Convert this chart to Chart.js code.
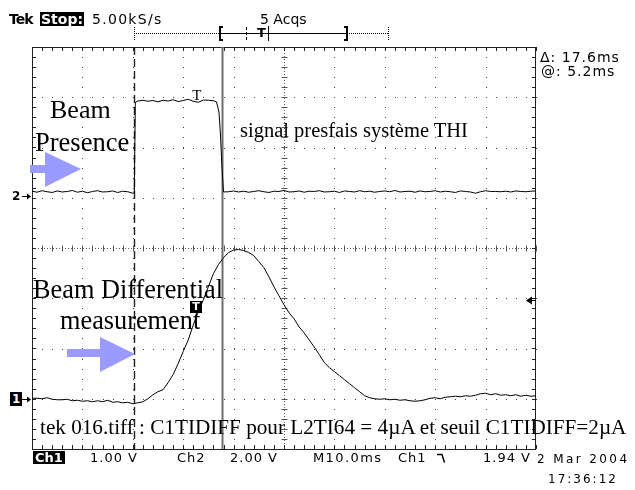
<!DOCTYPE html>
<html><head><meta charset="utf-8">
<script src="https://cdn.jsdelivr.net/npm/chart.js@4.4.0/dist/chart.umd.min.js"></script>
<style>
html,body{margin:0;padding:0;background:#fff;}
#wrap{position:relative;width:635px;height:490px;overflow:hidden;background:#fff;}
#c{position:absolute;left:0;top:0;}
.t{position:absolute;white-space:nowrap;line-height:1;}
.serif{font-family:"Liberation Serif","Times New Roman",serif;color:#000;}
.ui{font-family:"DejaVu Sans",sans-serif;color:#000;font-size:13px;letter-spacing:1px;}
.inv{background:#000;color:#fff;}
</style></head><body>
<div id="wrap">
<canvas id="c" width="635" height="490"></canvas>
<!-- header -->
<div class="t ui" style="left:9px;top:12px;font-size:14px;font-weight:bold;letter-spacing:-1px;">Tek</div>
<div class="t ui inv" style="left:40px;top:12px;font-size:14px;font-weight:bold;letter-spacing:0;padding:0 1px;">Stop:</div>
<div class="t ui" style="left:92px;top:12px;font-size:14px;letter-spacing:1.3px;">5.00kS/s</div>
<div class="t ui" style="left:260px;top:12px;font-size:14px;letter-spacing:0;">5 Acqs</div>
<div class="t ui" style="left:257px;top:26px;font-size:13px;font-weight:bold;letter-spacing:0;">T</div>
<div class="t ui" style="left:540px;top:50px;font-size:14px;letter-spacing:1px;">&Delta;: 17.6ms</div>
<div class="t ui" style="left:541px;top:64px;font-size:14px;letter-spacing:1px;">@: 5.2ms</div>
<!-- annotations -->
<div class="t serif" style="left:50px;top:97px;font-size:26px;">Beam</div>
<div class="t serif" style="left:35px;top:129px;font-size:26.5px;">Presence</div>
<div class="t serif" style="left:240px;top:120px;font-size:20.5px;">signal presfais système THI</div>
<div class="t serif" style="left:33px;top:277px;font-size:26.3px;">Beam Differential</div>
<div class="t serif" style="left:60px;top:308px;font-size:26.3px;">measurement</div>
<div class="t serif" style="left:40px;top:417px;font-size:21.2px;">tek 016.tiff : C1TIDIFF pour L2TI64 = 4µA et seuil C1TIDIFF=2µA</div>
<!-- status line -->
<div class="t ui inv" style="left:33px;top:451px;font-weight:bold;letter-spacing:0;padding:0 2px;">Ch1</div>
<div class="t ui" style="left:90px;top:451px;">1.00 V</div>
<div class="t ui" style="left:177px;top:451px;">Ch2</div>
<div class="t ui" style="left:230px;top:451px;">2.00 V</div>
<div class="t ui" style="left:313px;top:451px;letter-spacing:1.4px;">M10.0ms</div>
<div class="t ui" style="left:398px;top:451px;">Ch1</div>
<div class="t ui" style="left:483px;top:451px;">1.94 V</div>
<div class="t ui" style="left:537px;top:453px;font-size:12px;letter-spacing:2.4px;">2 Mar 2004</div>
<div class="t ui" style="left:548px;top:473px;font-size:12px;letter-spacing:2px;">17:36:12</div>
<!-- channel markers (positioned from the scales) -->
<div id="m1" class="t ui inv" style="font-size:12px;font-weight:bold;letter-spacing:0;padding:1px 2px;">1</div>
<div id="m2" class="t ui" style="font-size:12px;font-weight:bold;letter-spacing:0;">2</div>
<div id="mT2" class="t serif" style="font-size:15px;">T</div>
</div>
<script>
// ---- scope settings ----
const CH1_VDIV = 1.00;      // V/div
const CH2_VDIV = 2.00;      // V/div
const CH1_POS = -3.0;       // ground marker, divisions
const CH2_POS = 1.04;       // ground marker, divisions
const TIME_DIV = 10;        // ms/div
const TRIG_TIME = 32.6;     // ms from left edge
const TRIG_LEVEL = 1.94;    // V on Ch1
const CURSOR_A = 20.2;      // ms
const CURSOR_B = 37.8;      // ms

// ---- Ch1: beam differential measurement ----
const ch1Time = [0,1,2,3,4,5,6,7,8,9,10,11,12,13,14,15,16,17,18,19,20,21,22,23,24,25,26,27,28,29,30,31,32,33,34,35,36,37,38,39,40,41,42,43,44,45,46,47,48,49,50,51,52,53,54,55,56,57,58,59,60,61,62,63,64,65,66,67,68,69,70,71,72,73,74,75,76,77,78,79,80,81,82,83,84,85,86,87,88,89,90,91,92,93,94,95,96,97,98,99,100];
const ch1Volts = [0.01,0.01,0.00,0.02,-0.01,-0.02,-0.02,-0.01,-0.04,-0.03,
-0.05,-0.04,-0.06,-0.04,-0.06,-0.03,-0.07,-0.06,-0.08,-0.07,
-0.10,-0.08,-0.06,0.00,0.08,0.14,0.18,0.32,0.48,0.70,
0.94,1.17,1.47,1.73,1.97,2.23,2.49,2.67,2.81,2.91,
2.96,2.97,2.95,2.91,2.85,2.73,2.61,2.43,2.23,2.05,
1.87,1.71,1.59,1.43,1.31,1.17,1.03,0.88,0.72,0.62,
0.54,0.46,0.38,0.30,0.22,0.14,0.06,0.02,0.00,-0.01,
0.00,-0.02,-0.01,-0.03,-0.02,-0.04,-0.05,-0.04,-0.02,0.01,
0.02,0.00,0.03,0.04,0.05,0.04,0.06,0.05,0.07,0.10,
0.11,0.08,0.10,0.07,0.08,0.06,0.08,0.05,0.07,0.05,
0.06];

// ---- Ch2: beam presence gate ----
const ch2Time = [0,1,2,3,4,5,6,7,8,9,10,11,12,13,14,15,16,17,18,19,20,20.3,20.5,
21,22,23,24,25,26,27,28,29,30,31,32,33,34,35,36,36.6,37.1,37.4,37.7,38,
39,40,41,42,43,44,45,46,47,48,49,50,51,52,53,54,55,56,57,58,59,60,61,62,63,64,65,66,67,68,69,70,71,72,73,74,75,76,77,78,79,80,81,82,83,84,85,86,87,88,89,90,91,92,93,94,95,96,97,98,99,100];
const ch2Volts = [0.18,0.14,0.20,0.16,0.13,0.19,0.15,0.17,0.21,0.14,0.18,0.12,0.17,0.20,0.15,0.16,0.19,0.13,0.18,0.16,0.10,0.12,3.72,
3.77,3.80,3.76,3.79,3.74,3.80,3.77,3.82,3.75,3.79,3.84,3.76,3.72,3.81,3.80,3.78,3.74,3.33,2.42,1.10,0.15,
0.16,0.19,0.15,0.18,0.14,0.17,0.20,0.16,0.13,0.18,
0.17,0.21,0.15,0.16,0.19,0.14,0.18,0.17,0.20,0.15,
0.16,0.18,0.13,0.19,0.17,0.15,0.20,0.16,0.18,0.14,
0.17,0.19,0.16,0.21,0.15,0.17,0.18,0.14,0.19,0.16,
0.17,0.20,0.15,0.18,0.16,0.13,0.19,0.17,0.15,0.10,
0.16,0.20,0.17,0.17,0.16,0.18,0.15,0.19,0.17,0.16,
0.18,0.19];

const X_MIN = 0, X_MAX = 100, Y_MIN = -4, Y_MAX = 4;

const ch1Data = ch1Time.map((t, i) => ({x: t, y: CH1_POS + ch1Volts[i] / CH1_VDIV}));
const ch2Data = ch2Time.map((t, i) => ({x: t, y: CH2_POS + ch2Volts[i] / CH2_VDIV}));

function px(v){ return Math.round(v) + 0.5; }

const graticule = {
  id: 'graticule',
  beforeDatasetsDraw(chart) {
    const {ctx, chartArea: a, scales: {x, y}} = chart;
    ctx.save();
    ctx.fillStyle = '#444';
    for (let t = X_MIN + TIME_DIV; t < X_MAX; t += TIME_DIV) {
      if (t === 50) continue;
      const xx = Math.round(x.getPixelForValue(t));
      for (let v = Y_MIN; v <= Y_MAX + 1e-9; v += 0.2) ctx.fillRect(xx, Math.round(y.getPixelForValue(v)), 1, 1);
    }
    for (let v = Y_MIN + 1; v < Y_MAX; v += 1) {
      if (v === 0) continue;
      const yy = Math.round(y.getPixelForValue(v));
      for (let t = X_MIN; t <= X_MAX + 1e-9; t += 2) ctx.fillRect(Math.round(x.getPixelForValue(t)), yy, 1, 1);
    }
    const cx = px(x.getPixelForValue(50)), cy = px(y.getPixelForValue(0));
    ctx.strokeStyle = '#555'; ctx.lineWidth = 1;
    ctx.setLineDash([1, 2]);
    ctx.beginPath(); ctx.moveTo(cx, a.top); ctx.lineTo(cx, a.bottom); ctx.stroke();
    ctx.beginPath(); ctx.moveTo(a.left, cy); ctx.lineTo(a.right, cy); ctx.stroke();
    ctx.setLineDash([]);
    ctx.beginPath();
    for (let v = Y_MIN; v <= Y_MAX + 1e-9; v += 0.2) { const yy = px(y.getPixelForValue(v)); ctx.moveTo(cx - 3, yy); ctx.lineTo(cx + 3, yy); }
    for (let t = X_MIN; t <= X_MAX + 1e-9; t += 2) { const xx = px(x.getPixelForValue(t)); ctx.moveTo(xx, cy - 3); ctx.lineTo(xx, cy + 3); }
    ctx.stroke();
    ctx.strokeStyle = '#222';
    ctx.strokeRect(px(a.left), px(a.top), Math.round(a.width) - 1, Math.round(a.height));
    ctx.beginPath();
    for (let t = X_MIN; t <= X_MAX + 1e-9; t += 2) {
      const xx = px(x.getPixelForValue(t));
      ctx.moveTo(xx, a.top); ctx.lineTo(xx, a.top + 4);
      ctx.moveTo(xx, a.bottom); ctx.lineTo(xx, a.bottom - 4);
    }
    for (let v = Y_MIN; v <= Y_MAX + 1e-9; v += 0.2) {
      const yy = px(y.getPixelForValue(v));
      ctx.moveTo(a.left, yy); ctx.lineTo(a.left + 4, yy);
      ctx.moveTo(a.right, yy); ctx.lineTo(a.right - 4, yy);
    }
    ctx.stroke();
    const xa = px(x.getPixelForValue(CURSOR_A)), xb = x.getPixelForValue(CURSOR_B);
    ctx.strokeStyle = '#222'; ctx.lineWidth = 1.4; ctx.setLineDash([8, 4]);
    ctx.beginPath(); ctx.moveTo(xa, a.top); ctx.lineTo(xa, a.bottom); ctx.stroke();
    ctx.setLineDash([]);
    ctx.strokeStyle = '#6e6e6e'; ctx.lineWidth = 2;
    ctx.beginPath(); ctx.moveTo(xb, a.top); ctx.lineTo(xb, a.bottom); ctx.stroke();
    ctx.restore();
  },
  afterDraw(chart) {
    const {ctx, chartArea: a, scales: {x, y}} = chart;
    ctx.save();
    // record-length bar in the header
    const barY = 33.5, b0 = 134, b1 = 388, bl = 220, br = 347;
    ctx.strokeStyle = '#000'; ctx.lineWidth = 1;
    ctx.setLineDash([1, 1]);
    ctx.beginPath();
    ctx.moveTo(b0, barY); ctx.lineTo(bl, barY);
    ctx.moveTo(br, barY); ctx.lineTo(b1, barY);
    ctx.moveTo(b0 + 0.5, 27); ctx.lineTo(b0 + 0.5, 41);
    ctx.moveTo(b1 + 0.5, 27); ctx.lineTo(b1 + 0.5, 41);
    ctx.stroke();
    ctx.setLineDash([3, 2]);
    ctx.beginPath(); ctx.moveTo(246.5, 27); ctx.lineTo(246.5, 41); ctx.stroke();
    ctx.setLineDash([]);
    ctx.beginPath(); ctx.moveTo(bl, barY); ctx.lineTo(br, barY); ctx.stroke();
    ctx.lineWidth = 2;
    ctx.beginPath();
    ctx.moveTo(bl + 3, 27); ctx.lineTo(bl, 27); ctx.lineTo(bl, 40); ctx.lineTo(bl + 3, 40);
    ctx.moveTo(br - 3, 27); ctx.lineTo(br, 27); ctx.lineTo(br, 40); ctx.lineTo(br - 3, 40);
    ctx.stroke();
    ctx.lineWidth = 1;
    ctx.beginPath(); ctx.moveTo(268.5, 26); ctx.lineTo(268.5, 41); ctx.stroke();
    // falling-edge trigger slope symbol in status line
    ctx.lineWidth = 1.5;
    ctx.beginPath(); ctx.moveTo(437, 454.5); ctx.lineTo(442, 454.5); ctx.lineTo(444.5, 462.5); ctx.stroke();
    ctx.lineWidth = 1;
    // channel ground arrows at left edge
    ctx.fillStyle = '#000'; ctx.strokeStyle = '#000';
    [CH1_POS, CH2_POS].forEach(p => {
      const yy = px(y.getPixelForValue(p));
      ctx.beginPath(); ctx.moveTo(22, yy); ctx.lineTo(29, yy); ctx.stroke();
      ctx.beginPath(); ctx.moveTo(31, yy); ctx.lineTo(27, yy - 3); ctx.lineTo(27, yy + 3); ctx.closePath(); ctx.fill();
    });
    // trigger level arrow at right edge
    const yl = y.getPixelForValue(CH1_POS + TRIG_LEVEL / CH1_VDIV);
    const ty = px(yl) - 1;
    ctx.beginPath(); ctx.moveTo(a.right - 10, ty); ctx.lineTo(a.right - 4, ty - 4); ctx.lineTo(a.right - 4, ty + 4); ctx.closePath(); ctx.fill();
    ctx.beginPath(); ctx.moveTo(a.right - 5, ty); ctx.lineTo(a.right, ty); ctx.stroke();
    // trigger point marker on Ch1
    const xt = x.getPixelForValue(TRIG_TIME);
    ctx.fillStyle = '#000';
    ctx.fillRect(Math.round(xt) - 6, Math.round(yl), 12, 12);
    ctx.fillStyle = '#fff';
    ctx.font = 'bold 11px "DejaVu Sans", sans-serif';
    ctx.textAlign = 'center'; ctx.textBaseline = 'middle';
    ctx.fillText('T', Math.round(xt), Math.round(yl) + 6.5);
    // blue annotation arrows
    ctx.fillStyle = '#9a9aff';
    ctx.fillRect(30, 165, 16, 8);
    ctx.beginPath(); ctx.moveTo(45, 152); ctx.lineTo(81, 169); ctx.lineTo(45, 187); ctx.closePath(); ctx.fill();
    ctx.fillRect(67, 349, 34, 8);
    ctx.beginPath(); ctx.moveTo(100, 337); ctx.lineTo(135, 354); ctx.lineTo(100, 372); ctx.closePath(); ctx.fill();
    ctx.restore();
  }
};

const chart = new Chart(document.getElementById('c'), {
  type: 'line',
  data: {
    datasets: [
      {label: 'Ch2', data: ch2Data, borderColor: '#000', borderWidth: 1, pointRadius: 0, tension: 0},
      {label: 'Ch1', data: ch1Data, borderColor: '#000', borderWidth: 1, pointRadius: 0, tension: 0}
    ]
  },
  options: {
    responsive: false,
    devicePixelRatio: 1,
    animation: false,
    layout: {padding: {left: 32, right: 99, top: 47, bottom: 41}},
    scales: {
      x: {type: 'linear', min: X_MIN, max: X_MAX, display: false},
      y: {type: 'linear', min: Y_MIN, max: Y_MAX, display: false}
    },
    plugins: {legend: {display: false}, tooltip: {enabled: false}}
  },
  plugins: [graticule]
});

// place channel markers from the scales
(function(){
  const xs = chart.scales.x, ys = chart.scales.y;
  const y1 = ys.getPixelForValue(CH1_POS), y2 = ys.getPixelForValue(CH2_POS);
  const m1 = document.getElementById('m1'); m1.style.left = '10px'; m1.style.top = (y1 - 7) + 'px';
  const m2 = document.getElementById('m2'); m2.style.left = '12px'; m2.style.top = (y2 - 6) + 'px';
  const xt = xs.getPixelForValue(TRIG_TIME);
  const mT2 = document.getElementById('mT2'); mT2.style.left = (xt - 4) + 'px'; mT2.style.top = '88px';
})();
</script>
</body></html>
